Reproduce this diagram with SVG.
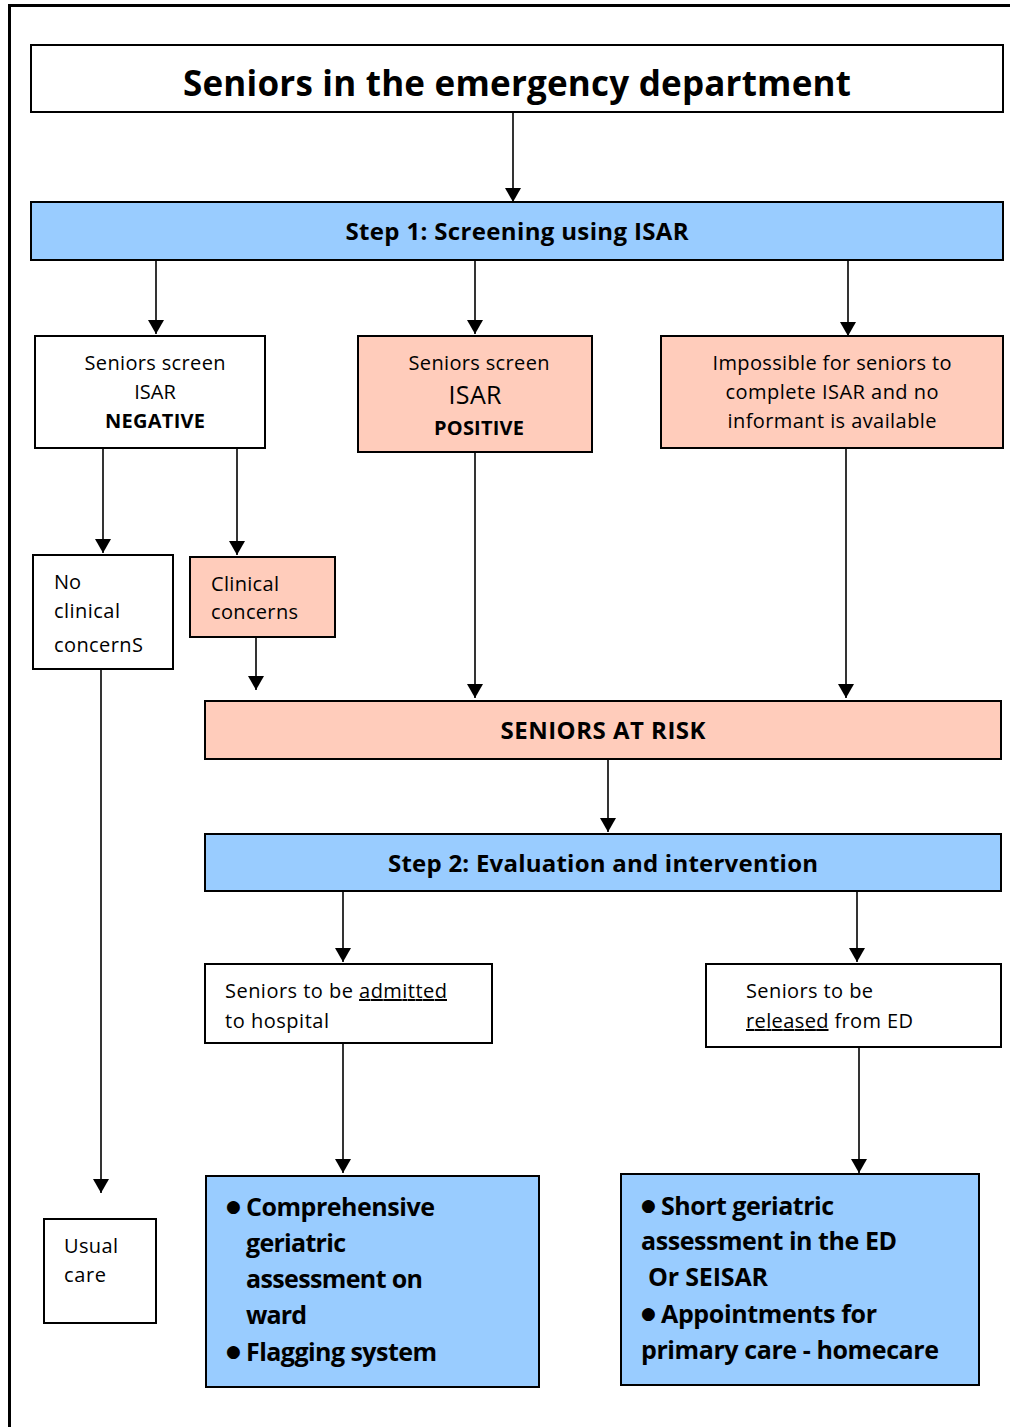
<svg xmlns="http://www.w3.org/2000/svg" width="1010" height="1427" viewBox="0 0 1010 1427">
<style>
text{font-family:"Open Sans","Noto Sans","DejaVu Sans",sans-serif;fill:#000}
.r{font-size:20px}
.b{font-weight:bold}
.big{font-size:24px;font-weight:bold}
.bl{font-size:25px;font-weight:bold}
.bu{font-size:17px}
.box{stroke:#000;stroke-width:2}
.w{fill:#fff}
.blue{fill:#99CCFF}
.pink{fill:#FFCCBB}
.c{text-anchor:middle}
.con line{stroke:#000;stroke-width:1.6;marker-end:url(#ah)}
</style>
<defs>
<marker id="ah" markerUnits="userSpaceOnUse" markerWidth="14" markerHeight="16" viewBox="0 0 14 16" refX="14" refY="8" orient="auto">
<path d="M0,0 L14,8 L0,16 z" fill="#000"/>
</marker>
</defs>
<rect width="1010" height="1427" fill="#fff"/>
<g id="frame" stroke="#000" stroke-width="3" fill="none">
<line x1="9.5" y1="5" x2="9.5" y2="1427"/>
<line x1="8" y1="5.5" x2="1010" y2="5.5"/>
</g>

<g class="con">
<line x1="513" y1="113" x2="513" y2="202"/>
<line x1="156" y1="261" x2="156" y2="334"/>
<line x1="475" y1="261" x2="475" y2="334"/>
<line x1="848" y1="261" x2="848" y2="336"/>
<line x1="103" y1="449" x2="103" y2="553"/>
<line x1="237" y1="449" x2="237" y2="555"/>
<line x1="256" y1="638" x2="256" y2="690"/>
<line x1="475" y1="453" x2="475" y2="698"/>
<line x1="846" y1="449" x2="846" y2="698"/>
<line x1="101" y1="670" x2="101" y2="1193"/>
<line x1="608" y1="760" x2="608" y2="832"/>
<line x1="343" y1="892" x2="343" y2="962"/>
<line x1="857" y1="892" x2="857" y2="962"/>
<line x1="343" y1="1044" x2="343" y2="1173"/>
<line x1="859" y1="1048" x2="859" y2="1173"/>
</g>

<g id="title">
<rect class="box w" x="31" y="45" width="972" height="67"/>
<text x="517" y="96" class="c b" font-size="35" textLength="668">Seniors in the emergency department</text>
</g>

<g id="step1">
<rect class="box blue" x="31" y="202" width="972" height="58"/>
<text x="517" y="240" class="c big" textLength="343">Step 1: Screening using ISAR</text>
</g>

<g id="negative">
<rect class="box w" x="35" y="336" width="230" height="112"/>
<text x="155" y="370" class="c r" textLength="141">Seniors screen</text>
<text x="155" y="399" class="c r">ISAR</text>
<text x="155" y="428" class="c r b" textLength="100">NEGATIVE</text>
</g>

<g id="positive">
<rect class="box pink" x="358" y="336" width="234" height="116"/>
<text x="479" y="370" class="c r" textLength="141">Seniors screen</text>
<text x="475" y="404" class="c" font-size="25" textLength="53">ISAR</text>
<text x="479" y="435" class="c r b" textLength="90">POSITIVE</text>
</g>

<g id="impossible">
<rect class="box pink" x="661" y="336" width="342" height="112"/>
<text x="832" y="370" class="c r" textLength="239">Impossible for seniors to</text>
<text x="832" y="399" class="c r" textLength="213">complete ISAR and no</text>
<text x="832" y="428" class="c r" textLength="209">informant is available</text>
</g>

<g id="noclinical">
<rect class="box w" x="33" y="555" width="140" height="114"/>
<text x="54" y="589" class="r">No</text>
<text x="54" y="618" class="r" textLength="66">clinical</text>
<text x="54" y="652" class="r" textLength="89">concernS</text>
</g>

<g id="clinical">
<rect class="box pink" x="190" y="557" width="145" height="80"/>
<text x="211" y="591" class="r" textLength="68">Clinical</text>
<text x="211" y="619" class="r" textLength="87">concerns</text>
</g>

<g id="atrisk">
<rect class="box pink" x="205" y="701" width="796" height="58"/>
<text x="603" y="739" class="c big" textLength="205">SENIORS AT RISK</text>
</g>

<g id="step2">
<rect class="box blue" x="205" y="834" width="796" height="57"/>
<text x="603" y="872" class="c big" textLength="430">Step 2: Evaluation and intervention</text>
</g>

<g id="admitted">
<rect class="box w" x="205" y="964" width="287" height="79"/>
<text x="225" y="998" class="r" textLength="222">Seniors to be <tspan text-decoration="underline">admitted</tspan></text>
<text x="225" y="1028" class="r" textLength="104">to hospital</text>
</g>

<g id="released">
<rect class="box w" x="706" y="964" width="295" height="83"/>
<text x="746" y="998" class="r" textLength="127">Seniors to be</text>
<text x="746" y="1028" class="r" textLength="167"><tspan text-decoration="underline">released</tspan> from ED</text>
</g>

<g id="usualcare">
<rect class="box w" x="44" y="1219" width="112" height="104"/>
<text x="64" y="1253" class="r" textLength="54">Usual</text>
<text x="64" y="1282" class="r" textLength="42">care</text>
</g>

<g id="ward">
<rect class="box blue" x="206" y="1176" width="333" height="211"/>
<text x="226" y="1212" class="bl bu">●</text>
<text x="246" y="1216" class="bl" textLength="189">Comprehensive</text>
<text x="246" y="1252" class="bl" textLength="100">geriatric</text>
<text x="246" y="1288" class="bl" textLength="177">assessment on</text>
<text x="246" y="1324" class="bl" textLength="61">ward</text>
<text x="226" y="1357" class="bl bu">●</text>
<text x="246" y="1361" class="bl" textLength="191">Flagging system</text>
</g>

<g id="edcare">
<rect class="box blue" x="621" y="1174" width="358" height="211"/>
<text x="641" y="1211" class="bl bu">●</text>
<text x="661" y="1215" class="bl" textLength="173">Short geriatric</text>
<text x="641" y="1250" class="bl" textLength="256">assessment in the ED</text>
<text x="648" y="1286" class="bl" textLength="120">Or SEISAR</text>
<text x="641" y="1319" class="bl bu">●</text>
<text x="661" y="1323" class="bl" textLength="216">Appointments for</text>
<text x="641" y="1359" class="bl" textLength="298">primary care - homecare</text>
</g>
</svg>
